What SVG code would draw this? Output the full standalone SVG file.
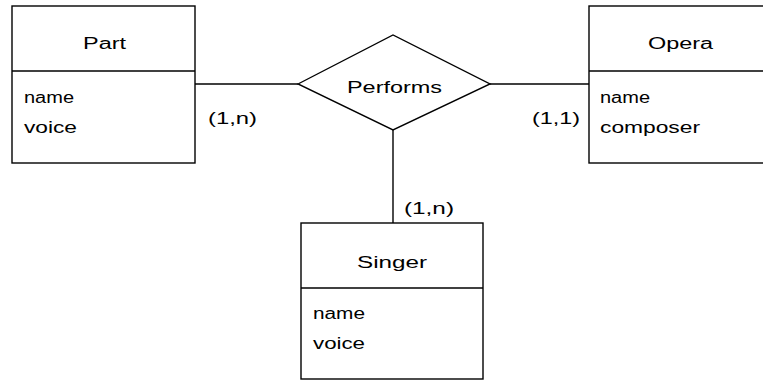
<svg xmlns="http://www.w3.org/2000/svg" width="763" height="381" viewBox="0 0 763 381">
<style>
.box{fill:#fff;stroke:#000;stroke-width:1.4}
.ln{stroke:#000;stroke-width:1.4;fill:none}
text{font-family:"Liberation Sans",Arial,sans-serif;font-size:16px;fill:#000}
</style>
<rect width="763" height="381" fill="#fff"/>
<g id="connectors">
<line class="ln" x1="195" y1="84" x2="298" y2="84"/>
<line class="ln" x1="490" y1="84" x2="589" y2="84"/>
<line class="ln" x1="393" y1="130" x2="393" y2="223"/>
<text x="208" y="124" textLength="49" lengthAdjust="spacingAndGlyphs">(1,n)</text>
<text x="532" y="124" textLength="48" lengthAdjust="spacingAndGlyphs">(1,1)</text>
<text x="404" y="214" textLength="50" lengthAdjust="spacingAndGlyphs">(1,n)</text>
</g>
<g id="part">
<rect class="box" x="12" y="6" width="183" height="157"/>
<line class="ln" x1="12" y1="71" x2="195" y2="71"/>
<text x="83" y="49" textLength="43" lengthAdjust="spacingAndGlyphs">Part</text>
<text x="24" y="103" textLength="50" lengthAdjust="spacingAndGlyphs">name</text>
<text x="24" y="133" textLength="53" lengthAdjust="spacingAndGlyphs">voice</text>
</g>
<g id="performs">
<polygon class="box" points="298,84 393,35 490,84 393,130"/>
<text x="347" y="93" textLength="95" lengthAdjust="spacingAndGlyphs">Performs</text>
</g>
<g id="opera">
<rect class="box" x="589" y="6" width="183" height="157"/>
<line class="ln" x1="589" y1="71" x2="772" y2="71"/>
<text x="648" y="49" textLength="65" lengthAdjust="spacingAndGlyphs">Opera</text>
<text x="600" y="103" textLength="50" lengthAdjust="spacingAndGlyphs">name</text>
<text x="600" y="133" textLength="100" lengthAdjust="spacingAndGlyphs">composer</text>
</g>
<g id="singer">
<rect class="box" x="301" y="223" width="182" height="156"/>
<line class="ln" x1="301" y1="288" x2="483" y2="288"/>
<text x="357" y="268" textLength="70" lengthAdjust="spacingAndGlyphs">Singer</text>
<text x="313" y="319" textLength="52" lengthAdjust="spacingAndGlyphs">name</text>
<text x="313" y="349" textLength="52" lengthAdjust="spacingAndGlyphs">voice</text>
</g>
</svg>
